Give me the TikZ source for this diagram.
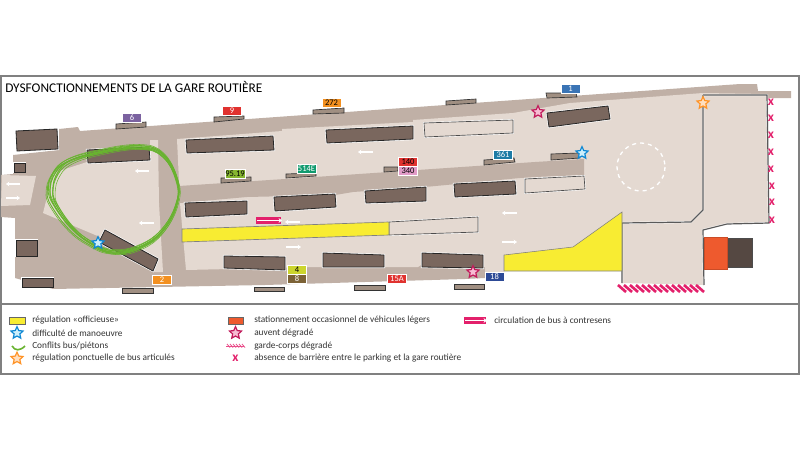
\documentclass[tikz,border=0pt]{standalone}
\usepackage{fontspec}
\setmainfont{Carlito}
\usetikzlibrary{shapes.geometric,arrows.meta}
\definecolor{roadgray}{HTML}{C0B0A6}
\definecolor{quaylight}{HTML}{E4D9D1}
\definecolor{shelter}{HTML}{7A675E}
\definecolor{awningc}{HTML}{A08F82}
\definecolor{loopgreen}{HTML}{68B32F}
\definecolor{signyellow}{HTML}{F8EC32}
\definecolor{fuchsia}{HTML}{E3206B}
\definecolor{parkorange}{HTML}{EE5A2E}
\definecolor{linepurple}{HTML}{7B62A0}
\definecolor{linered}{HTML}{E0322F}
\definecolor{linegreen}{HTML}{86B530}
\definecolor{lineorange}{HTML}{F39020}
\definecolor{lineteal}{HTML}{109A6E}
\definecolor{linepink}{HTML}{E29CC8}
\definecolor{linepetrol}{HTML}{1E7BA5}
\definecolor{lineyellow}{HTML}{CCD52E}
\definecolor{linebrown}{HTML}{7C6236}
\definecolor{linenavy}{HTML}{2D4A96}
\definecolor{lineblue}{HTML}{3A74B5}
\tikzset{
  building/.style={fill=shelter, draw=black!85, line width=0.6pt, preaction={draw=white, line width=1.6pt}},
  awning/.style={fill=awningc, draw=black!80, line width=0.5pt},
  freebay/.style={fill=quaylight, draw=black!70, line width=0.5pt, preaction={draw=white, line width=1.4pt}},
  busbox/.style={draw=white, line width=0.3pt, minimum width=14.5pt, minimum height=7pt, inner sep=0pt, font=\fontsize{6.4}{6.4}\selectfont},
  flow/.style={draw=white, line width=1.2pt, -{Stealth[length=2.5pt,width=3.5pt]}},
  fence/.style={draw=black!65, line width=0.9pt, preaction={draw=white, line width=1.5pt}},
  legendtext/.style={anchor=west, inner sep=0pt, text=black!80, font=\fontsize{7}{8}\selectfont},
  markstar/.style={star, star points=5, star point ratio=2.1, minimum size=9.5pt, inner sep=0pt, line width=0.9pt},
  bluestar/.style={markstar, draw=cyan!70!blue, fill=cyan!20},
  orangestar/.style={markstar, draw=orange!85, fill=orange!25},
  pinkstar/.style={markstar, draw=fuchsia!85!black, fill=fuchsia!30},
  crossmark/.style={inner sep=0pt, text=fuchsia, font=\fontsize{10}{10}\selectfont\bfseries}
}
\begin{document}
\begin{tikzpicture}[x=0.75pt,y=-0.75pt]
    \useasboundingbox (0,0) rectangle (800,450);
    \fill[white] (0,0) rectangle (800,450);

    % frame
    \draw[gray, line width=0.9pt] (1,76) rectangle (799,374);
    \draw[gray, line width=1.2pt] (1,304) -- (799,304);
    \node[anchor=west, inner sep=0pt, font=\fontsize{10}{12}\selectfont] (title) at (5,87) {DYSFONCTIONNEMENTS DE LA GARE ROUTIÈRE};

    % roads
    \fill[roadgray] (13,155) -- (59,150) -- (59,129) -- (78,127) -- (80,131) -- (740,84) -- (757,84) -- (758,91) -- (791,91) -- (791,98) -- (768,98)
        -- (768,223) -- (622,223) -- (622,250) -- (504,260) -- (504,272) -- (485,272) -- (485,278) -- (465,279) -- (265,285) -- (53,289) -- (15,278) -- (15,218) -- (1,217) -- (1,175) -- (13,174) -- cycle;

    % quays
    \fill[quaylight] (2,175) -- (36,176) -- (30,205) -- (1,206) -- cycle;
    \fill[quaylight] (53,173) -- (87,162) -- (150,160) -- (150,140) -- (158,140) -- (159,203) -- (163,272) -- (154,272) -- (100,237) -- (43,213) -- cycle;
    \fill[quaylight] (177,139) -- (282,131) -- (282,129) -- (413,122) -- (413,120) -- (513,113) -- (570,103) -- (703,93) -- (767,94) -- (769,223) -- (727,224) -- (703,230) -- (704,285) -- (622,283) -- (622,212)
        -- (573,247) -- (504,255) -- (504,272) -- (485,272) -- (485,267) -- (421,265) -- (418,267) -- (318,267) -- (186,270) -- (180,203) -- cycle;
    \fill[roadgray] (179,186) -- (315,177) -- (535,162) -- (584,159) -- (584,175) -- (535,177) -- (520,178) -- (425,187) -- (353,192) -- (335,195) -- (247,197) -- (180,203) -- cycle;

    % parking fences
    \draw[fence] (703,95) -- (703,210) -- (691,222) -- (622,223) -- (622,283);
    \draw[fence] (703,95) -- (767,95) -- (769,223) -- (727,224) -- (703,230) -- (704,285);

    % yellow zones
    \draw[gray, fill=signyellow, line width=0.4pt] (622,212) -- (573,247) -- (504,255) -- (504,271) -- (622,271) -- cycle;
    \draw[freebay] (389,222) -- (478,217) -- (478,232) -- (389,235) -- cycle;
    \draw[freebay] (424,123) -- (513,120) -- (513,133) -- (425,137) -- cycle;
    \draw[freebay] (525,179) -- (584,176) -- (585,189) -- (525,193) -- cycle;
    \draw[gray, fill=signyellow, line width=0.5pt] (182,229) -- (389,222) -- (389,235) -- (182,242) -- cycle;

    % shelters
    \draw[building] (16,131) -- (57,129) -- (58,149) -- (17,151) -- cycle;
    \draw[building] (87,150) -- (149,147) -- (150,160) -- (88,163) -- cycle;
    \draw[building] (14,163) -- (25,163) -- (25,172) -- (14,172) -- cycle;
    \draw[building] (16,240) -- (37,240) -- (37,256) -- (16,256) -- cycle;
    \draw[building] (105,230) -- (158,259) -- (153,271) -- (99,242) -- cycle;
    \draw[building] (22,278) -- (53,278) -- (53,287) -- (22,287) -- cycle;
    \draw[building] (186,140) -- (273,136) -- (274,150) -- (187,153) -- cycle;
    \draw[building] (185,203) -- (247,201) -- (247,214) -- (186,217) -- cycle;
    \draw[building] (224,256) -- (285,257) -- (285,270) -- (224,268) -- cycle;
    \draw[building] (326,130) -- (413,126) -- (413,139) -- (327,143) -- cycle;
    \draw[building] (274,197) -- (335,194) -- (336,207) -- (275,211) -- cycle;
    \draw[building] (365,191) -- (426,187) -- (426,201) -- (366,203) -- cycle;
    \draw[building] (454,184) -- (515,181) -- (516,194) -- (455,197) -- cycle;
    \draw[building] (323,253) -- (384,255) -- (384,267) -- (323,267) -- cycle;
    \draw[building] (422,253) -- (483,255) -- (483,268) -- (422,267) -- cycle;
    \draw[building] (547,113) -- (608,106) -- (610,119) -- (549,127) -- cycle;

    % awnings
    \draw[awning] (116,124) -- (146,122) -- (146,127) -- (116,129) -- cycle;
    \draw[awning] (214,117) -- (244,116) -- (244,119) -- (214,122) -- cycle;
    \draw[awning] (221,178) -- (251,177) -- (251,181) -- (221,183) -- cycle;
    \draw[awning] (122,288) -- (153,288) -- (153,293) -- (122,293) -- cycle;
    \draw[awning] (254,287) -- (284,287) -- (284,291) -- (254,291) -- cycle;
    \draw[awning] (313,110) -- (344,108) -- (344,113) -- (313,114) -- cycle;
    \draw[awning] (446,101) -- (476,99) -- (476,103) -- (446,105) -- cycle;
    \draw[awning] (286,174) -- (316,173) -- (316,176) -- (286,178) -- cycle;
    \draw[awning] (384,167) -- (398,167) -- (398,171) -- (384,172) -- cycle;
    \draw[awning] (484,160) -- (514,158) -- (515,162) -- (484,165) -- cycle;
    \draw[awning] (354,285) -- (385,285) -- (385,290) -- (354,290) -- cycle;
    \draw[awning] (454,284) -- (484,284) -- (484,289) -- (454,289) -- cycle;
    \draw[awning] (546,93) -- (576,93) -- (577,97) -- (547,98) -- cycle;
    \draw[awning] (551,154) -- (579,153) -- (580,158) -- (551,160) -- cycle;

    % parking
    \draw[black!70, fill=shelter!70!black, line width=0.4pt] (727,238) rectangle (752,267);
    \draw[parkorange!85!black, fill=parkorange, line width=0.5pt] (704,237) rectangle (727,269);
    \draw[white, dashed, line width=1pt] (641,167) circle (24);

    % traffic arrows
    \draw[flow] (149,171) -- (135,171);
    \draw[flow] (154,223) -- (139,223);
    \draw[flow] (20,184) -- (6,184);
    \draw[flow] (6,198) -- (20,198);
    \draw[flow] (373,152) -- (358,152);
    \draw[flow] (300,222) -- (285,222);
    \draw[flow] (286,247) -- (301,247);
    \draw[flow] (517,213) -- (502,213);
    \draw[flow] (502,242) -- (517,242);

    % wrong-way circulation
    \fill[fuchsia] (256,217) rectangle (281,224);
    \draw[flow] (257,220.5) -- (282,220.5);

    % conflict loop
    \foreach \dx/\dy/\sx/\lw in {0/0/1/0.9, 1.5/-1/0.98/0.7, -1.5/1/1.02/0.7, 1/1.5/0.97/0.5, -1/-1.5/1.01/0.6, 2/1/0.99/0.4, -2/2/1.03/0.4, 0/-2.5/1/0.4, 2.5/2.5/0.96/0.4}
        \draw[loopgreen, line width=\lw pt, smooth, tension=0.7] plot coordinates {
            ({115+\sx*(-65)+\dx},{192+\dy}) ({115+\sx*(-62)+\dx},{177+\dy}) ({115+\sx*(-48)+\dx},{162+\dy}) ({115+\sx*(-15)+\dx},{152+\dy}) ({115+\sx*25+\dx},{147+\dy}) ({115+\sx*48+\dx},{155+\dy})
            ({115+\sx*62+\dx},{180+\dy}) ({115+\sx*62+\dx},{203+\dy}) ({115+\sx*48+\dx},{230+\dy}) ({115+\sx*25+\dx},{247+\dy}) ({115+\sx*(-2)+\dx},{252+\dy}) ({115+\sx*(-25)+\dx},{243+\dy}) ({115+\sx*(-45)+\dx},{227+\dy}) ({115+\sx*(-62)+\dx},{203+\dy}) ({115+\sx*(-65)+\dx},{192+\dy})};

    % bus lines
    \node[busbox, fill=linepurple, text=white] (line6) at (132,118) {6};
    \node[busbox, fill=linered, text=white] (line9) at (232,110.5) {9};
    \node[busbox, fill=linegreen, text=black] (line95) at (235,173.5) {95.19};
    \node[busbox, fill=lineorange, text=white] (line2) at (162,279.5) {2};
    \node[busbox, fill=lineorange, text=black] (line272) at (331.5,103) {272};
    \node[busbox, fill=lineteal, text=white] (line514) at (306.5,168.5) {514E};
    \node[busbox, fill=linered, text=black] (line140) at (408,161.5) {140};
    \node[busbox, fill=linepink, text=black] (line340) at (408,170.5) {340};
    \node[busbox, fill=linepetrol, text=white] (line361) at (503,154.5) {361};
    \node[busbox, fill=lineyellow, text=black] (line4) at (297,269.5) {4};
    \node[busbox, fill=linebrown, text=white] (line8) at (297,279) {8};
    \node[busbox, fill=linered, text=white] (line15) at (397,278.5) {15A};
    \node[busbox, fill=linenavy, text=white] (line18) at (494.5,276.5) {18};
    \node[busbox, fill=lineblue, text=white] (line1) at (570.5,88.5) {1};

    % stars
    \node[bluestar] (starA) at (98,243) {};
    \node[bluestar] (starB) at (582,153) {};
    \node[orangestar] (starC) at (703,103) {};
    \node[pinkstar] (starD) at (538,112) {};
    \node[pinkstar] (starE) at (473,272) {};

    % missing barrier
    \node[crossmark] (crossA) at (771,102) {x};
    \node[crossmark] (crossB) at (771,118) {x};
    \node[crossmark] (crossC) at (771,135) {x};
    \node[crossmark] (crossD) at (771,152) {x};
    \node[crossmark] (crossE) at (771,169) {x};
    \node[crossmark] (crossF) at (772,186) {x};
    \node[crossmark] (crossG) at (772,202) {x};
    \node[crossmark] (crossH) at (772,220) {x};

    % guard rail
    \foreach \x in {618,624,...,696}
        \draw[fuchsia, line width=2pt] (\x,285) -- ({\x+8},292);

    % legend
    \draw[black!60, fill=signyellow, line width=0.5pt] (9.5,317.5) rectangle (25,324);
    \node[legendtext] (legA) at (32,320.5) {régulation «officieuse»};
    \node[bluestar] (legstarA) at (17,333) {};
    \node[legendtext] (legB) at (32,333) {difficulté de manoeuvre};
    \draw[loopgreen, line width=1.2pt] (12,346) .. controls (15,351) and (20,351) .. (25,346);
    \node[legendtext] (legC) at (32,345.7) {Conflits bus/piétons};
    \node[orangestar] (legstarB) at (17,358.5) {};
    \node[legendtext] (legD) at (32,358.3) {régulation ponctuelle de bus articulés};

    \draw[black!60, fill=parkorange, line width=0.5pt] (228.5,317.5) rectangle (243,324);
    \node[legendtext] (legE) at (254,320.5) {stationnement occasionnel de véhicules légers};
    \node[pinkstar] (legstarC) at (235.5,333) {};
    \node[legendtext] (legF) at (254,333) {auvent dégradé};
    \foreach \x in {227,230,...,242}
        \draw[fuchsia!80, line width=0.6pt] (\x,344) -- ({\x+3},347.5);
    \draw[fuchsia!80, line width=0.6pt] (226,346.5) -- (244,346.5);
    \node[legendtext] (legG) at (254,345.7) {garde-corps dégradé};
    \node[crossmark] (legcross) at (235.5,358.5) {x};
    \node[legendtext] (legH) at (254,358.3) {absence de barrière entre le parking et la gare routière};

    \fill[fuchsia] (464,317) rectangle (486,324);
    \draw[flow] (465,320.5) -- (487,320.5);
    \node[legendtext] (legI) at (494,320.5) {circulation de bus à contresens};
\end{tikzpicture}
\end{document}
